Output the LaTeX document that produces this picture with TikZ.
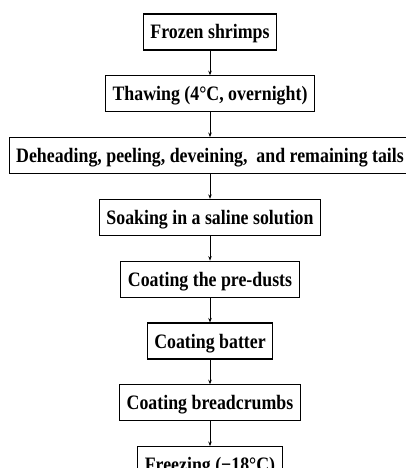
\documentclass[tikz,border=0pt]{standalone}
\usepackage{fontspec}
\newfontfamily\stepfont{Liberation Serif}[FakeStretch=0.87]
\usetikzlibrary{arrows.meta,positioning}

\begin{document}
\begin{tikzpicture}[
  x=1pt, y=1pt,
  node distance=24.7pt,
  stepbox/.style={
    rectangle, draw=black, line width=1.1pt,
    font=\stepfont\bfseries\fontsize{20.5}{22}\selectfont,
    minimum height=36pt, inner xsep=7pt, inner ysep=0pt,
    text height=16pt, text depth=2pt,
  },
  arrow/.style={-{Stealth[length=4.5pt,width=3.5pt]}, line width=0.9pt},
]
  \useasboundingbox (0,0) rectangle (406,-468);

  \node[stepbox] (frozen) at (210,-32) {Frozen shrimps};
  \node[stepbox, below=of frozen] (thaw)   {Thawing (4°C, overnight)};
  \node[stepbox, below=of thaw]   (peel)   {Deheading, peeling, deveining,\ \ and remaining tails};
  \node[stepbox, below=of peel]   (soak)   {Soaking in a saline solution};
  \node[stepbox, below=of soak]   (dust)   {Coating the pre-dusts};
  \node[stepbox, below=of dust]   (batter) {Coating batter};
  \node[stepbox, below=of batter] (crumb)  {Coating breadcrumbs};
  \node[stepbox, below=of crumb]  (freeze) {Freezing (−18°C)};

  \draw[arrow] (frozen) -- (thaw);
  \draw[arrow] (thaw)   -- (peel);
  \draw[arrow] (peel)   -- (soak);
  \draw[arrow] (soak)   -- (dust);
  \draw[arrow] (dust)   -- (batter);
  \draw[arrow] (batter) -- (crumb);
  \draw[arrow] (crumb)  -- (freeze);
\end{tikzpicture}
\end{document}
